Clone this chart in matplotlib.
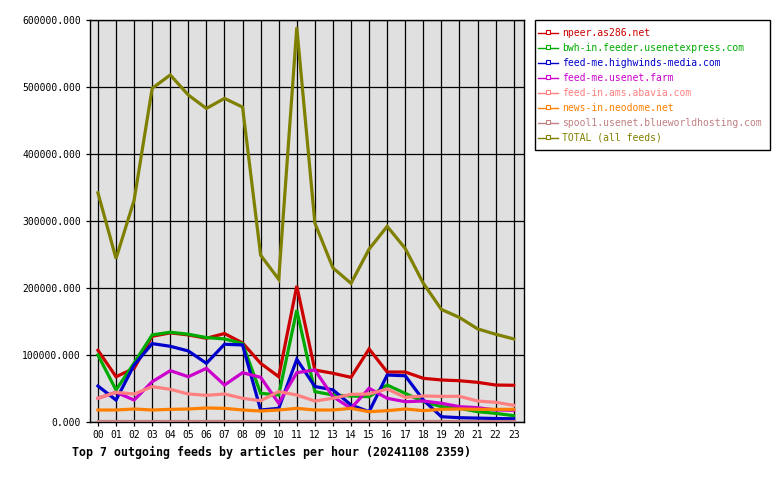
import matplotlib
matplotlib.use("Agg")
import matplotlib.pyplot as plt
from matplotlib.lines import Line2D
from matplotlib.patches import Rectangle

hours = ["%02d" % h for h in range(24)]

npeer = [107000, 67600, 80000, 128000, 133000, 130000, 125000, 132000, 118000, 87600, 67600, 203000,
         77600, 72700, 66700, 109000, 74600, 74600, 65200, 62700, 61600, 59200, 55200, 54800]
bwh = [100000, 47800, 88000, 130000, 134000, 131000, 126000, 124000, 117000, 42800, 40300, 167000,
       45300, 40300, 38800, 37800, 55200, 42800, 30300, 22900, 20400, 15400, 12900, 9500]
highwinds = [53700, 32800, 85000, 117000, 113000, 106000, 87600, 116000, 115000, 17900, 20400, 93600,
             53000, 48000, 25400, 15400, 70100, 69000, 32800, 7900, 6400, 5800, 5200, 4800]
usenetfarm = [35400, 44300, 32800, 60100, 76600, 67600, 80100, 55200, 73600, 66700, 28000, 73600,
              77600, 37800, 20400, 50300, 35400, 30300, 31300, 27900, 22900, 21400, 18000, 17500]
abavia = [35400, 44300, 41800, 52700, 48800, 41800, 39800, 41800, 35400, 31800, 45300, 40300,
          31300, 35400, 41300, 41800, 49300, 36800, 38800, 38300, 38300, 31300, 29400, 24900]
neodome = [17900, 17900, 19400, 17900, 18900, 19400, 20900, 20400, 17900, 16400, 17900, 20400,
           17900, 17900, 20400, 15400, 16900, 19400, 16900, 18900, 19400, 18900, 18900, 18900]
spool1 = [2000] * 24
total = [342000, 244000, 331000, 498000, 518000, 488000, 468000, 483000, 470000, 249000, 213000, 589000,
         297000, 230000, 207000, 258000, 292000, 259000, 207000, 168000, 156000, 139000, 131000, 124000]

names = ["npeer.as286.net", "bwh-in.feeder.usenetexpress.com", "feed-me.highwinds-media.com",
         "feed-me.usenet.farm", "feed-in.ams.abavia.com", "news-in.neodome.net",
         "spool1.usenet.blueworldhosting.com", "TOTAL (all feeds)"]
series = [npeer, bwh, highwinds, usenetfarm, abavia, neodome, spool1, total]
colors = ["#cc0000", "#00aa00", "#0000cc", "#cc00cc", "#ff8080", "#ff8000", "#c08080", "#808000"]
title = "Top 7 outgoing feeds by articles per hour (20241108 2359)"

plt.rcParams['font.family'] = ['DejaVu Sans Mono']

fig = plt.figure(figsize=(7.8, 4.8), dpi=100)
W, H = 780, 480
ax = fig.add_axes([90 / W, 1 - 422 / H, (524 - 90) / W, (422 - 20) / H])
ax.set_facecolor("#e0e0e0")

x = list(range(24))
for vals, c in zip(series, colors):
    ax.plot(x, vals, color=c, lw=2.3, solid_joinstyle='miter', zorder=3)

ax.set_xlim(-0.44, 23.57)
ax.set_ylim(0, 600000)
ax.set_xticks(x)
ax.set_xticklabels(hours)
yt = [0, 100000, 200000, 300000, 400000, 500000, 600000]
ax.set_yticks(yt)
ax.set_yticklabels(["%d.000" % v for v in yt])
ax.grid(True, color="black", lw=0.9, zorder=1)
ax.set_axisbelow(True)
ax.tick_params(axis='both', direction='out', length=3, width=0.9, labelsize=7, colors='black')
ax.tick_params(axis='y', pad=3.5)
ax.tick_params(axis='x', pad=3)
for s in ax.spines.values():
    s.set_linewidth(1.0)
    s.set_color("black")

# legend drawn manually in figure pixel coordinates
def fx(px):
    return px / W

def fy(py):
    return 1 - py / H

fig.patches.append(Rectangle((fx(535), fy(150)), fx(770) - fx(535), fy(20) - fy(150),
                             transform=fig.transFigure, facecolor='white', edgecolor='black',
                             lw=1.0, zorder=5))
for i, (name, c) in enumerate(zip(names, colors)):
    yy = fy(33 + 15 * i)
    fig.add_artist(Line2D([fx(538), fx(558)], [yy, yy], transform=fig.transFigure,
                          color=c, lw=1.0, zorder=6))
    fig.add_artist(Line2D([fx(548)], [yy + 1 / H], transform=fig.transFigure, color=c,
                          marker='s', markersize=2.5, markerfacecolor='white',
                          markeredgecolor=c, markeredgewidth=0.8, zorder=7))
    fig.text(fx(562), yy, name, color=c, fontsize=7.05, va='center', ha='left', zorder=8)

fig.text(72 / W, 1 - 452 / H, title, fontsize=8.35, fontweight='bold', va='center', ha='left')

fig.savefig("out.png", dpi=100, facecolor='white')
